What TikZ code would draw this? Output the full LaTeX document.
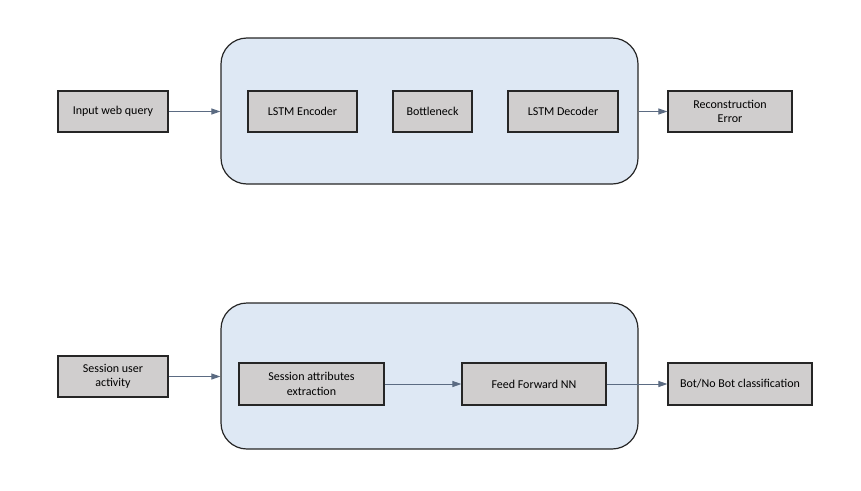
\documentclass[tikz,border=0pt]{standalone}
\usepackage{fontspec}
\setmainfont{Carlito}
\usetikzlibrary{arrows.meta}
\definecolor{boxgray}{HTML}{D0CECE}
\definecolor{contblue}{HTML}{DEE8F4}
\definecolor{arrowslate}{HTML}{5B6B82}
\definecolor{edgedark}{HTML}{262626}
\tikzset{
  blockbox/.style={draw=edgedark, fill=boxgray, line width=1.2pt, inner sep=0pt,
    align=center, minimum height=41pt, font=\fontsize{12}{14.6}\selectfont},
  container/.style={draw=edgedark, fill=contblue, line width=1.2pt, rounded corners=26pt, inner sep=0pt},
  flow/.style={draw=arrowslate, line width=1pt, -{Triangle[length=9pt,width=6pt]}}
}
\begin{document}
\begin{tikzpicture}[x=1pt,y=-1pt]
\useasboundingbox (0,0) rectangle (861,490);
% containers
\node[container, minimum width=417pt, minimum height=146pt] (topc) at (429.5,111) {};
\node[container, minimum width=417pt, minimum height=146pt] (botc) at (429.5,376) {};
% top row
\node[blockbox, minimum width=110pt] (inq) at (113,111.5) {Input web query};
\node[blockbox, minimum width=109pt] (enc) at (302.5,111.5) {LSTM Encoder};
\node[blockbox, minimum width=79pt] (bneck) at (432.5,111.5) {Bottleneck};
\node[blockbox, minimum width=110pt] (dec) at (563,111.5) {LSTM Decoder};
\node[blockbox, minimum width=124pt] (rec) at (730,111.5) {Reconstruction\\Error};
% bottom row
\node[blockbox, minimum width=110pt] (sua) at (113,376.5) {Session user\\activity};
\node[blockbox, minimum width=145pt, minimum height=42pt] (sae) at (311.5,384) {Session attributes\\extraction};
\node[blockbox, minimum width=144pt, minimum height=42pt] (ffn) at (534,384) {Feed Forward NN};
\node[blockbox, minimum width=144pt, minimum height=42pt] (bnb) at (740,384) {Bot/No Bot classification};
% connectors
\draw[flow] (inq.east) -- (inq.east -| topc.west);
\draw[flow] (rec.west -| topc.east) -- (rec.west);
\draw[flow] (sua.east) -- (sua.east -| botc.west);
\draw[flow] (sae.east) -- (ffn.west);
\draw[flow] (ffn.east) -- (bnb.west);
\end{tikzpicture}
\end{document}
